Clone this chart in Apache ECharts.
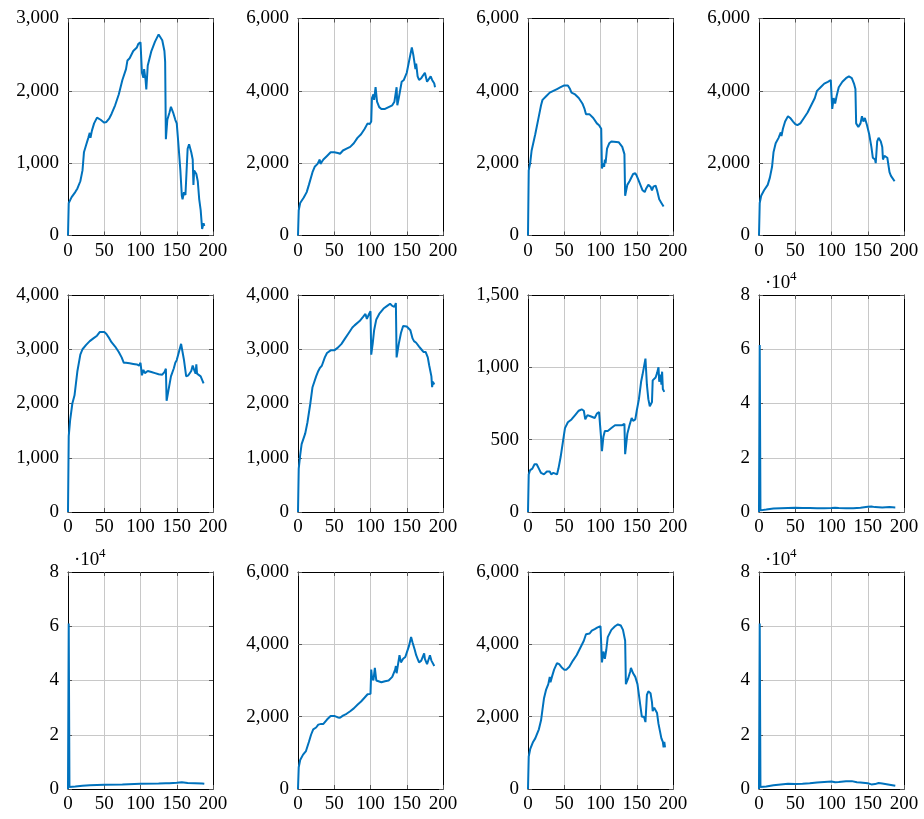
<!DOCTYPE html>
<html><head><meta charset="utf-8">
<script src="https://cdn.jsdelivr.net/npm/echarts@6/dist/echarts.min.js"></script>
<style>html,body{margin:0;padding:0;background:#fff}#c{width:924px;height:819px}</style>
</head><body><div id="c"></div>
<script>
const s1 = [[0,0],[1,450],[5,530],[10,600],[13,650],[17,750],[20,900],[22,1150],[25,1250],[28,1350],[30,1420],[31,1350],[33,1450],[36,1550],[40,1630],[42,1640],[45,1600],[50,1560],[53,1570],[57,1620],[60,1680],[65,1800],[70,1950],[75,2150],[80,2300],[82,2420],[85,2450],[90,2550],[95,2600],[97,2650],[100,2670],[101,2650],[102,2250],[104,2180],[105,2300],[107,2150],[108,2020],[110,2350],[115,2550],[120,2680],[125,2780],[127,2760],[130,2700],[133,2550],[134,2400],[135,1330],[136,1330],[137,1600],[140,1700],[142,1780],[145,1700],[148,1600],[150,1550],[152,1300],[155,900],[157,550],[158,500],[160,600],[162,560],[163,580],[165,1200],[167,1260],[170,1150],[172,1050],[173,700],[174,900],[176,880],[177,850],[179,750],[181,500],[183,350],[185,90],[187,170],[188,130]];
const s2 = [[0,0],[1,700],[3,900],[8,1050],[12,1200],[15,1400],[20,1750],[23,1900],[27,1980],[30,2100],[31,1980],[35,2100],[40,2200],[45,2300],[50,2300],[55,2280],[58,2260],[62,2350],[67,2400],[72,2450],[77,2550],[82,2700],[87,2800],[92,2950],[96,3100],[99,3080],[101,3150],[102,3800],[104,3900],[105,3750],[107,4100],[109,3700],[112,3550],[115,3500],[120,3500],[125,3550],[130,3600],[133,3700],[136,4100],[137,3600],[139,3800],[141,3850],[143,4250],[146,4300],[148,4400],[150,4500],[152,4550],[155,5000],[157,5200],[159,5000],[162,4600],[163,4750],[165,4400],[167,4300],[168,4250],[170,4350],[172,4300],[175,4500],[176,4550],[178,4250],[180,4300],[183,4400],[185,4300],[188,4200],[189,4100]];
const s3 = [[0,0],[1,1800],[3,2000],[5,2350],[10,2800],[15,3300],[18,3600],[20,3750],[25,3850],[30,3950],[35,4000],[40,4050],[45,4100],[50,4150],[55,4150],[58,4050],[60,3950],[65,3900],[70,3800],[75,3650],[78,3500],[80,3350],[82,3400],[85,3350],[90,3250],[95,3100],[98,3050],[100,3050],[101,2950],[102,1850],[104,2000],[105,1900],[106,2100],[107,2000],[109,2400],[112,2550],[115,2600],[125,2580],[130,2450],[133,2250],[134,1100],[135,1200],[137,1400],[140,1500],[145,1700],[148,1720],[150,1650],[152,1550],[155,1400],[158,1250],[161,1200],[163,1300],[166,1400],[169,1350],[171,1250],[173,1350],[176,1380],[178,1250],[181,1000],[184,900],[187,800]];
const s4 = [[0,0],[1,900],[3,1100],[7,1250],[12,1400],[15,1600],[18,1900],[20,2300],[23,2550],[27,2700],[30,2850],[31,2750],[33,2950],[36,3150],[40,3300],[43,3250],[47,3150],[50,3080],[53,3050],[57,3100],[62,3250],[67,3400],[72,3600],[77,3800],[80,4000],[85,4100],[90,4200],[95,4250],[99,4300],[100,4250],[101,3500],[103,3800],[105,3650],[107,3850],[110,4100],[115,4250],[120,4350],[124,4400],[128,4350],[131,4200],[133,4050],[134,3100],[137,3000],[140,3100],[142,3300],[144,3150],[146,3250],[149,3050],[152,2800],[155,2450],[157,2150],[160,2100],[161,2000],[163,2600],[165,2700],[168,2600],[170,2450],[171,2100],[173,2200],[177,2150],[180,1750],[182,1650],[184,1600],[187,1500]];
const s5 = [[0,0],[1,1400],[3,1700],[6,2000],[9,2150],[13,2600],[17,2900],[20,3000],[25,3080],[30,3150],[35,3200],[40,3250],[44,3320],[50,3320],[53,3280],[57,3200],[60,3130],[65,3050],[70,2950],[74,2850],[77,2750],[80,2750],[85,2740],[90,2730],[95,2720],[98,2700],[100,2750],[102,2520],[104,2620],[106,2560],[110,2600],[115,2580],[120,2560],[125,2540],[130,2530],[133,2580],[135,2640],[136,2050],[138,2200],[142,2500],[146,2650],[148,2750],[150,2800],[153,2950],[156,3100],[158,2950],[160,2800],[162,2800],[163,2500],[166,2520],[170,2600],[172,2700],[174,2620],[176,2550],[177,2720],[178,2550],[180,2580],[183,2500],[185,2480],[187,2370]];
const s6 = [[0,0],[1,800],[3,1050],[5,1250],[10,1450],[13,1650],[17,2000],[20,2300],[25,2500],[28,2600],[30,2650],[33,2700],[37,2850],[40,2930],[45,2980],[50,2980],[55,3030],[60,3100],[65,3200],[70,3300],[75,3400],[78,3440],[80,3450],[85,3520],[90,3600],[93,3650],[95,3560],[98,3650],[100,3700],[101,2900],[103,3100],[105,3350],[108,3550],[112,3650],[118,3750],[123,3800],[127,3840],[130,3800],[133,3780],[135,3850],[136,2850],[138,2850],[139,3100],[142,3300],[145,3430],[150,3420],[155,3350],[158,3200],[160,3150],[163,3120],[167,3050],[170,3000],[173,2950],[176,2950],[179,2850],[181,2700],[184,2500],[185,2300],[186,2400],[188,2350]];
const s7 = [[0,0],[1,260],[3,290],[6,300],[9,330],[12,330],[15,300],[18,270],[22,260],[26,280],[30,280],[32,260],[35,270],[40,260],[42,300],[45,380],[48,480],[51,580],[55,620],[60,640],[65,670],[70,700],[74,710],[77,700],[79,640],[82,670],[87,660],[92,650],[95,680],[98,690],[100,690],[101,500],[102,420],[104,520],[106,560],[110,560],[115,580],[120,600],[125,600],[130,600],[133,610],[134,400],[136,400],[137,540],[140,600],[143,650],[145,630],[148,640],[150,700],[153,780],[156,900],[158,950],[160,960],[162,1060],[164,880],[166,780],[168,730],[171,760],[172,910],[174,900],[176,930],[178,960],[180,1000],[181,900],[183,950],[184,880],[185,970],[186,850],[188,830]];
const s8 = [[0,0],[1,61600],[2,600],[10,900],[20,1300],[30,1400],[40,1500],[50,1550],[60,1500],[70,1450],[80,1400],[90,1400],[100,1500],[105,1600],[110,1500],[120,1400],[130,1400],[140,1600],[150,1900],[155,2000],[160,1800],[170,1700],[180,1800],[188,1700]];
const s9 = [[0,0],[1,61000],[2,700],[10,900],[20,1200],[30,1400],[50,1600],[75,1700],[100,1900],[125,2000],[135,2100],[136,1800],[140,2100],[150,2300],[157,2500],[165,2200],[175,2100],[185,2000],[188,1900]];
const s10 = [[0,0],[1,600],[3,800],[7,950],[11,1050],[15,1300],[18,1500],[21,1650],[25,1700],[28,1780],[30,1750],[32,1800],[35,1800],[40,1920],[45,2020],[50,2020],[55,1980],[58,1970],[62,2030],[67,2080],[72,2150],[77,2230],[82,2330],[87,2420],[92,2530],[96,2620],[100,2630],[101,3300],[102,3100],[104,3000],[106,3350],[108,3000],[110,2950],[115,2950],[120,2980],[125,3000],[130,3100],[134,3300],[135,3400],[136,3200],[138,3200],[140,3700],[142,3500],[145,3600],[148,3650],[150,3700],[153,3950],[156,4200],[158,4050],[161,3850],[163,3700],[165,3600],[167,3500],[170,3550],[172,3550],[174,3750],[175,3600],[178,3450],[180,3500],[182,3700],[184,3550],[186,3500],[188,3400]];
const s11 = [[0,0],[1,900],[3,1100],[7,1300],[10,1400],[15,1650],[18,1900],[20,2200],[22,2500],[25,2750],[28,2900],[30,3100],[31,2950],[33,3100],[36,3300],[40,3480],[43,3450],[47,3350],[50,3300],[53,3300],[57,3380],[62,3550],[67,3700],[72,3900],[77,4100],[80,4280],[85,4300],[88,4380],[92,4420],[96,4470],[100,4500],[101,4000],[102,3500],[104,3800],[106,3600],[108,3850],[110,4200],[115,4400],[120,4500],[124,4550],[128,4520],[131,4400],[134,4100],[135,2900],[138,3050],[141,3250],[142,3350],[145,3200],[148,3100],[151,2900],[153,2600],[155,2300],[157,2000],[160,2000],[162,1850],[164,2600],[166,2700],[169,2650],[171,2400],[172,2150],[174,2250],[176,2200],[178,2100],[180,1800],[182,1600],[184,1400],[186,1300],[187,1150],[188,1300],[189,1150]];
const s12 = [[0,0],[1,61000],[2,700],[10,900],[20,1400],[30,1700],[40,1900],[50,1850],[60,1900],[70,2100],[80,2400],[90,2600],[100,2800],[105,2500],[110,2600],[120,2900],[128,2900],[135,2500],[140,2400],[150,2100],[155,1700],[160,1800],[165,2200],[170,2000],[180,1600],[188,1200]];

const allSeries = [s1,s2,s3,s4,s5,s6,s7,s8,s9,s10,s11,s12];
const xMaxVal = 200, xStep = 50;
const yMaxes = [3000,6000,6000,6000,4000,4000,1500,80000,80000,6000,6000,80000];
const ySteps = [1000,2000,2000,2000,1000,1000,500,20000,20000,2000,2000,20000];
const sciPanels = [false,false,false,false,false,false,false,true,true,false,false,true];

const colLeft = [68,298,528,759];
const rowTop = [18.5,295,572];
const W = 145, H = 217;
const FONT = 'Liberation Serif';
const FS = 19;

function fmt(v){ return String(v).replace(/\B(?=(\d{3})+(?!\d))/g, ','); }

const grids=[], xAxes=[], yAxes=[], series=[], graphics=[];
const tickStyle = {show:true, inside:true, length:4, lineStyle:{color:'#555', width:1}};
const lineAx = {show:true, onZero:false, lineStyle:{color:'#000', width:1}};
const split = {show:true, lineStyle:{color:'#c8c8c8', width:1}};
for (let i=0;i<12;i++){
  const r = Math.floor(i/4), c = i%4;
  grids.push({left:colLeft[c], top:rowTop[r], width:W, height:H, outerBoundsMode:'none', containLabel:false});
  const sci = sciPanels[i];
  xAxes.push({type:'value', gridIndex:i, position:'bottom', min:0, max:xMaxVal, interval:xStep,
    axisLine:lineAx, axisTick:tickStyle, splitLine:split,
    axisLabel:{color:'#000', fontFamily:FONT, fontSize:FS, margin:6, showMinLabel:true, showMaxLabel:true, hideOverlap:false}});
  xAxes.push({type:'value', gridIndex:i, position:'top', min:0, max:xMaxVal, interval:xStep,
    axisLine:lineAx, axisTick:tickStyle, splitLine:{show:false}, axisLabel:{show:false}});
  yAxes.push({type:'value', gridIndex:i, position:'left', min:0, max:yMaxes[i], interval:ySteps[i],
    axisLine:lineAx, axisTick:tickStyle, splitLine:split,
    axisLabel:{color:'#000', fontFamily:FONT, fontSize:FS, margin:9, showMinLabel:true, showMaxLabel:true, hideOverlap:false,
      formatter: sci ? (v => String(v/10000)) : (v => fmt(v))}});
  yAxes.push({type:'value', gridIndex:i, position:'right', min:0, max:yMaxes[i], interval:ySteps[i],
    axisLine:lineAx, axisTick:tickStyle, splitLine:{show:false}, axisLabel:{show:false}});
  series.push({type:'line', xAxisIndex:2*i, yAxisIndex:2*i, data:allSeries[i], showSymbol:false, symbol:'none',
    smooth:false, lineStyle:{color:'#0072BD', width:2}, itemStyle:{color:'#0072BD'}, clip:true, z:3});
  if (sci){
    graphics.push({type:'text', left:colLeft[c]+6, top:rowTop[r]-21, style:{text:'·10', font:FS+'px "'+FONT+'"', fill:'#000'}});
    graphics.push({type:'text', left:colLeft[c]+31, top:rowTop[r]-25, style:{text:'4', font:'13px "'+FONT+'"', fill:'#000'}});
  }
}
const chart = echarts.init(document.getElementById('c'), null, {renderer:'canvas'});
chart.setOption({animation:false, backgroundColor:'#fff', grid:grids, xAxis:xAxes, yAxis:yAxes, series:series, graphic:graphics});
</script></body></html>
